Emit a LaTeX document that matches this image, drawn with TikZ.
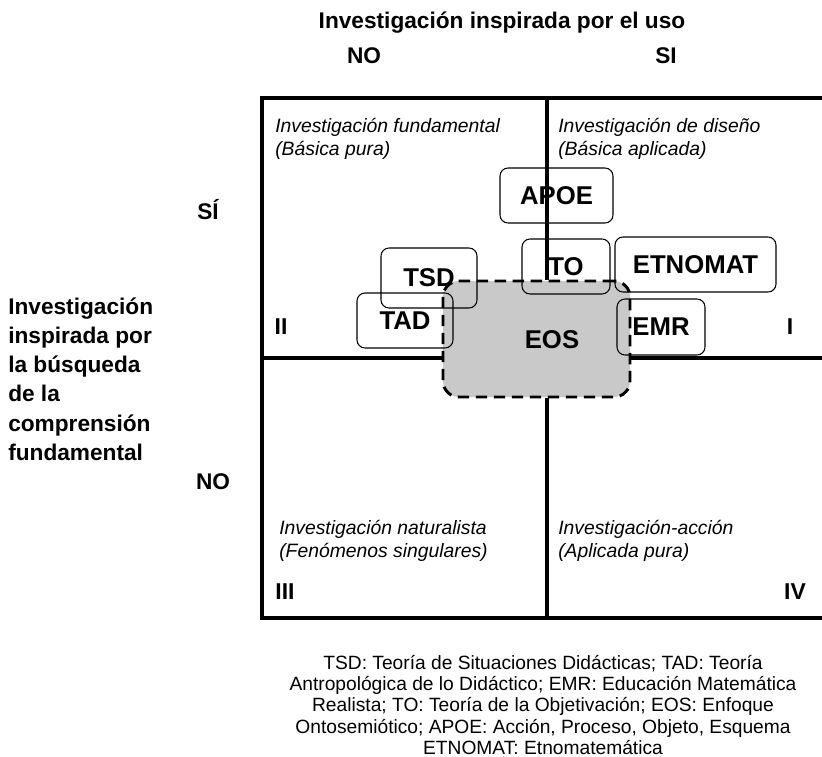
\documentclass[tikz,border=0pt]{standalone}
\usepackage{fontspec}
\setmainfont{Liberation Sans}
\definecolor{eosgray}{RGB}{201,201,201}
\begin{document}
\begin{tikzpicture}[x=0.75pt,y=-0.75pt,
  frameline/.style={line width=2.3pt},
  quad/.style={font=\fontsize{14.5}{17.25}\selectfont\itshape, align=left, inner sep=0pt, anchor=west},
  head/.style={font=\fontsize{17}{21.9}\selectfont\bfseries, inner sep=0pt},
  numeral/.style={font=\fontsize{17.2}{20}\selectfont\bfseries, inner sep=0pt},
  labelfont/.style={font=\fontsize{19.3}{21}\selectfont\bfseries},
  theory/.style={draw, line width=0.8pt, rounded corners=6pt, inner sep=0pt, labelfont},
  eosbox/.style={draw, fill=eosgray, dash pattern=on 8.5pt off 5pt, line width=2.2pt,
    rounded corners=12pt, inner sep=0pt}
]
\useasboundingbox (0,0) rectangle (822,757);

% axis headings
\node[head] (title) at (502,23) {Investigación inspirada por el uso};
\node[head] (colno) at (364,56) {NO};
\node[head] (colsi) at (666,56) {SI};
\node[head] (rowsi) at (208,210) {SÍ};
\node[head] (rowno) at (213,482) {NO};
\node[head, anchor=west, align=left] (rowlabel) at (8,379)
  {Investigación\\inspirada por\\la búsqueda\\de la\\comprensión\\fundamental};

% frame corners and divider ends
\coordinate (ftr) at (822,98);
\coordinate (ftl) at (262,98);
\coordinate (fbl) at (262,618);
\coordinate (fbr) at (822,618);
\coordinate (vtop) at (547,98);
\coordinate (vbot) at (547,618);
\coordinate (hleft) at (262,358);
\coordinate (hright) at (822,358);

% EOS region
\node[eosbox, minimum width=140.25pt, minimum height=87pt] (eos) at (536.5,339) {};
\node[labelfont, inner sep=0pt] (eostext) at (552,340) {EOS};

% frame and quadrant dividers
\draw[frameline] (ftr) -- (ftl) -- (fbl) -- (fbr);
\draw[frameline] (vtop) -- (vtop |- eos.north);
\draw[frameline] (vbot |- eos.south) -- (vbot);
\draw[frameline] (hleft) -- (hleft -| eos.west);
\draw[frameline] (hright -| eos.east) -- (hright);

% theories
\node[theory, minimum width=84.75pt, minimum height=41.25pt] (apoe) at (556.5,195.5) {APOE};
\node[theory, minimum width=66pt, minimum height=41.25pt] (to) at (566,266.5) {TO};
\node[theory, minimum width=120.75pt, minimum height=41.25pt] (etnomat) at (695.5,264.5) {ETNOMAT};
\node[theory, minimum width=72pt, minimum height=45pt] (tsd) at (429,278) {TSD};
\node[theory, minimum width=72pt, minimum height=41.25pt] (tad) at (405,320.5) {TAD};
\node[theory, minimum width=66pt, minimum height=42pt] (emr) at (661,327) {EMR};

% quadrant descriptions
\node[quad] (q1) at (558,139) {Investigación de diseño\\(Básica aplicada)};
\node[quad] (q2) at (275,139) {Investigación fundamental\\(Básica pura)};
\node[quad] (q3) at (279,541) {Investigación naturalista\\(Fenómenos singulares)};
\node[quad] (q4) at (558,541) {Investigación-acción\\(Aplicada pura)};

% quadrant numbers
\node[numeral] (n1) at (790,327) {I};
\node[numeral] (n2) at (281,327) {II};
\node[numeral] (n3) at (285,592) {III};
\node[numeral] (n4) at (795,592) {IV};

% abbreviations
\node[font=\fontsize{14.4}{16.1}\selectfont, align=center, inner sep=0pt] (legend) at (543,705)
  {TSD: Teoría de Situaciones Didácticas; TAD: Teoría\\
   Antropológica de lo Didáctico; EMR: Educación Matemática\\
   Realista; TO: Teoría de la Objetivación; EOS: Enfoque\\
   Ontosemiótico; APOE: Acción, Proceso, Objeto, Esquema\\
   ETNOMAT: Etnomatemática};
\end{tikzpicture}
\end{document}
